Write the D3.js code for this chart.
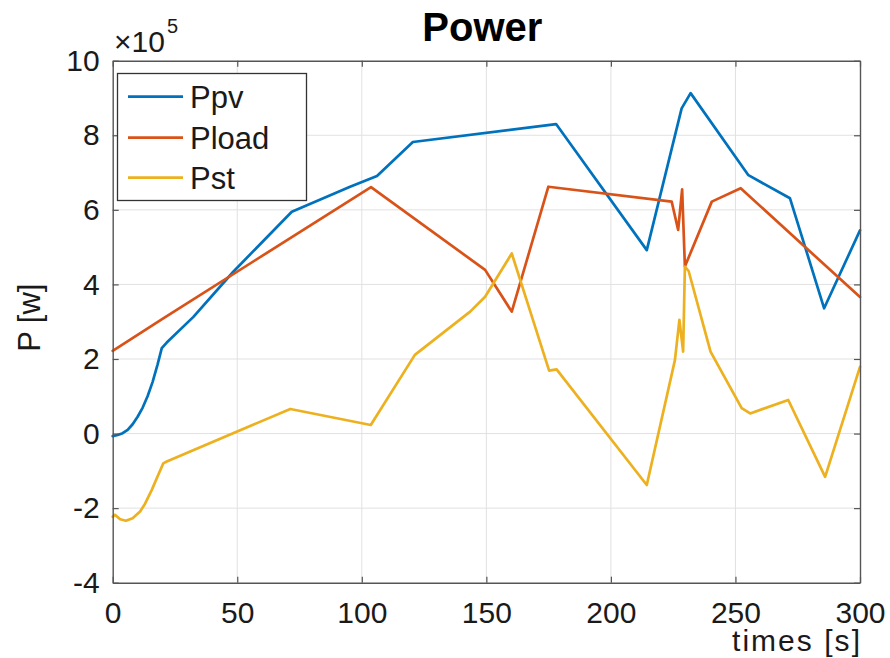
<!DOCTYPE html>
<html>
<head>
<meta charset="utf-8">
<script src="https://cdn.jsdelivr.net/npm/d3@7"></script>
<style>
  html, body { margin: 0; padding: 0; background: #fff; }
  svg { display: block; font-family: "Liberation Sans", Arial, sans-serif; }
</style>
</head>
<body>
<div id="chart"></div>
<script>
// ---- data (time in s, power in units of 1e5 W) ----
const ppvT = [0, 2, 4, 6, 8, 10, 12, 14, 16, 18, 19.7, 21.7, 32.4, 48.4, 71.9, 95.3, 106.1, 120.5, 178, 214.4, 228.4, 232, 255.2, 271.9, 285.6, 300];
const ppvV = [-0.07, -0.04, 0.01, 0.10, 0.25, 0.45, 0.69, 1.00, 1.38, 1.85, 2.29, 2.44, 3.13, 4.34, 5.95, 6.62, 6.91, 7.82, 8.30, 4.92, 8.72, 9.13, 6.93, 6.31, 3.36, 5.45];

const ploadT = [0, 20.3, 103.7, 149.5, 160.2, 174.9, 224.4, 227, 228.6, 229.7, 240.5, 252.1, 300];
const ploadV = [2.22, 3.09, 6.61, 4.39, 3.27, 6.62, 6.22, 5.46, 6.55, 4.48, 6.22, 6.58, 3.66];

const pstT = [0, 0.9, 3, 5.3, 8, 11, 13, 15.7, 18, 20.3, 21.7, 71.3, 103.6, 121.3, 143.5, 149.5, 160.2, 175.2, 178.2, 214.4, 225.7, 227.5, 229, 229.7, 231.2, 240, 252.5, 255.9, 271.2, 286, 300];
const pstV = [-2.23, -2.18, -2.30, -2.34, -2.27, -2.09, -1.88, -1.51, -1.15, -0.80, -0.75, 0.66, 0.23, 2.11, 3.27, 3.67, 4.83, 1.69, 1.72, -1.38, 1.97, 3.05, 2.2, 4.48, 4.36, 2.2, 0.68, 0.54, 0.90, -1.16, 1.79];

const xTicks = [0, 50, 100, 150, 200, 250, 300];
const yTicks = [-4, -2, 0, 2, 4, 6, 8, 10];
const seriesNames = ["Ppv", "Pload", "Pst"];
const seriesColors = ["#0072BD", "#D95319", "#EDB120"];

// ---- layout ----
const W = 890, H = 658;
const m = { left: 112.7, right: 30, top: 60.7, bottom: 75.3 };
const iw = W - m.left - m.right, ih = H - m.top - m.bottom;

const svg = d3.select("#chart").append("svg").attr("width", W).attr("height", H);
const x = d3.scaleLinear().domain([0, 300]).range([m.left, m.left + iw]);
const y = d3.scaleLinear().domain([-4, 10]).range([m.top + ih, m.top]);

// grid
const grid = svg.append("g");
grid.selectAll(".gx").data(xTicks.slice(1, -1)).join("line")
  .attr("x1", d => x(d)).attr("x2", d => x(d)).attr("y1", m.top).attr("y2", m.top + ih)
  .attr("stroke", "#e1e1e1").attr("stroke-width", 1);
grid.selectAll(".gy").data(yTicks.slice(1, -1)).join("line")
  .attr("x1", m.left).attr("x2", m.left + iw).attr("y1", d => y(d)).attr("y2", d => y(d))
  .attr("stroke", "#e1e1e1").attr("stroke-width", 1);

// lines
const series = [
  { t: ppvT, v: ppvV },
  { t: ploadT, v: ploadV },
  { t: pstT, v: pstV }
];
const line = d3.line().x(d => x(d[0])).y(d => y(d[1]));
series.forEach((s, i) => {
  svg.append("path")
    .datum(s.t.map((t, k) => [t, s.v[k]]))
    .attr("d", line)
    .attr("fill", "none")
    .attr("stroke", seriesColors[i])
    .attr("stroke-width", 2.7)
    .attr("stroke-linejoin", "round")
    .attr("stroke-linecap", "round");
});

// axes (MATLAB style box with inward ticks)
const axColor = "#555";
const tickLen = 6;
const fmt = d => String(d);
const xAxB = d3.axisBottom(x).tickValues(xTicks).tickSize(-tickLen).tickSizeOuter(0).tickPadding(19).tickFormat(fmt);
const xAxT = d3.axisTop(x).tickValues(xTicks).tickSize(-tickLen).tickSizeOuter(0).tickFormat("");
const yAxL = d3.axisLeft(y).tickValues(yTicks).tickSize(-tickLen).tickSizeOuter(0).tickPadding(13).tickFormat(fmt);
const yAxR = d3.axisRight(y).tickValues(yTicks).tickSize(-tickLen).tickSizeOuter(0).tickFormat("");

function styleAxis(g) {
  g.select(".domain").attr("stroke", axColor).attr("stroke-width", 1.4);
  g.selectAll(".tick line").attr("stroke", axColor).attr("stroke-width", 1.2);
  g.selectAll(".tick text").attr("fill", "#1a1a1a").style("font-size", "30px")
    .style("font-family", "'Liberation Sans', Arial, sans-serif");
}
svg.append("g").attr("transform", `translate(0,${m.top + ih})`).call(xAxB).call(styleAxis);
svg.append("g").attr("transform", `translate(0,${m.top})`).call(xAxT).call(styleAxis);
svg.append("g").attr("transform", `translate(${m.left},0)`).call(yAxL).call(styleAxis);
svg.append("g").attr("transform", `translate(${m.left + iw},0)`).call(yAxR).call(styleAxis);

// exponent label
const ex = svg.append("text").attr("x", 114).attr("y", 52).attr("fill", "#1a1a1a")
  .style("font-size", "30px");
ex.append("tspan").text("×10");
ex.append("tspan").attr("dx", 2).attr("dy", -19).style("font-size", "20px").text("5");

// title
svg.append("text").attr("x", x(150) - 4).attr("y", 41).attr("text-anchor", "middle")
  .attr("fill", "#000").style("font-size", "40px").style("font-weight", "bold").text("Power");

// axis labels
svg.append("text").attr("transform", `translate(40,${m.top + ih / 2 - 4}) rotate(-90)`)
  .attr("text-anchor", "middle").attr("fill", "#1a1a1a").style("font-size", "31px").text("P [w]");
svg.append("text").attr("x", 732).attr("y", 651)
  .attr("textLength", 128).attr("lengthAdjust", "spacing")
  .attr("fill", "#1a1a1a").style("font-size", "30px").text("times [s]");

// legend
const lg = svg.append("g");
lg.append("rect").attr("x", 117.5).attr("y", 73.5).attr("width", 189).attr("height", 127)
  .attr("fill", "#fff").attr("stroke", "#333").attr("stroke-width", 1.3);
const legY = [96.7, 137.7, 177.7];
seriesNames.forEach((n, i) => {
  lg.append("line").attr("x1", 128).attr("x2", 183).attr("y1", legY[i]).attr("y2", legY[i])
    .attr("stroke", seriesColors[i]).attr("stroke-width", 2.7);
  lg.append("text").attr("x", 190).attr("y", legY[i] + 11).attr("fill", "#1a1a1a")
    .style("font-size", "31px").text(n);
});
</script>
</body>
</html>
